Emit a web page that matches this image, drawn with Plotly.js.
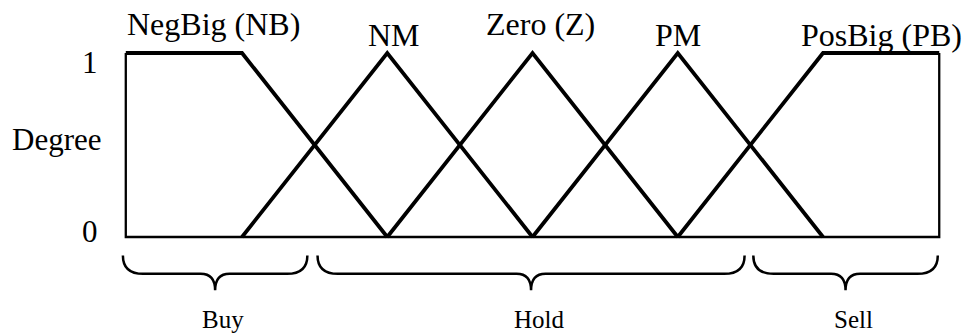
<!DOCTYPE html>
<html>
<head>
<meta charset="utf-8">
<script src="https://cdn.plot.ly/plotly-3.0.1.min.js"></script>
<style>html,body{margin:0;padding:0;background:#fff;}#chart{width:968px;height:336px;}</style>
</head>
<body>
<div id="chart"></div>
<script>
// ---- data ----
const setNames = ['NegBig (NB)', 'NM', 'Zero (Z)', 'PM', 'PosBig (PB)'];
const universe = [-2.8, 2.8];
const nbX = [-2.8, -2, -1];
const nbY = [1, 1, 0];
const nmX = [-2, -1, 0];
const nmY = [0, 1, 0];
const zX = [-1, 0, 1];
const zY = [0, 1, 0];
const pmX = [0, 1, 2];
const pmY = [0, 1, 0];
const pbX = [1, 2, 2.8];
const pbY = [0, 1, 1];
const setPeaks = [-2.4, -1, 0, 1, 2.4];
const degreeTicks = [0, 1];
const degreeTickText = ['0', '1'];
const regionNames = ['Buy', 'Hold', 'Sell'];
const regionStart = [-2.82, -1.48, 1.52];
const regionEnd = [-1.55, 1.46, 2.79];

// ---- styles ----
const serif = 'Liberation Serif, Times New Roman, serif';
const black = '#000';
const lineStyle = {color: black, width: 3.8};

const traces = [
  {x: [universe[0], universe[0], universe[1], universe[1]], y: [1, 0, 0, 1], mode: 'lines', line: {color: black, width: 2.3}},
  {x: nbX, y: nbY, mode: 'lines', line: lineStyle},
  {x: nmX, y: nmY, mode: 'lines', line: lineStyle},
  {x: zX, y: zY, mode: 'lines', line: lineStyle},
  {x: pmX, y: pmY, mode: 'lines', line: lineStyle},
  {x: pbX, y: pbY, mode: 'lines', line: lineStyle}
];

// label placement styles
const labelY = [1.158, 1.10, 1.158, 1.10, 1.10];
const labelShift = [30, 7, 8, 0, 0];

const annotations = [];
setNames.forEach((name, i) => {
  annotations.push({x: setPeaks[i], y: labelY[i], xref: 'x', yref: 'y', text: name, showarrow: false,
    xanchor: 'center', yanchor: 'middle', xshift: labelShift[i], font: {family: serif, size: 32, color: black}});
});
degreeTicks.forEach((v, i) => {
  annotations.push({x: universe[0], y: v, xref: 'x', yref: 'y', text: degreeTickText[i], showarrow: false,
    xanchor: 'center', yanchor: 'middle', xshift: -36, yshift: i === 0 ? 6 : -10, font: {family: serif, size: 31, color: black}});
});
annotations.push({x: universe[0], y: 0.5, xref: 'x', yref: 'y', text: 'Degree', showarrow: false,
  xanchor: 'center', yanchor: 'middle', xshift: -69, yshift: 6, font: {family: serif, size: 31, color: black}});

const shapes = [];
const braceTop = -0.1, braceFlat = -0.2, braceTip = -0.29, r = 0.14, rt = 0.1;
regionNames.forEach((name, i) => {
  const a = regionStart[i], b = regionEnd[i], m = (a + b) / 2;
  const path = `M ${a},${braceTop} Q ${a},${braceFlat} ${a + r},${braceFlat} L ${m - rt},${braceFlat} ` +
    `Q ${m},${braceFlat} ${m},${braceTip} Q ${m},${braceFlat} ${m + rt},${braceFlat} L ${b - r},${braceFlat} ` +
    `Q ${b},${braceFlat} ${b},${braceTop}`;
  shapes.push({type: 'path', xref: 'x', yref: 'y', path: path, line: {color: black, width: 2.5}});
  annotations.push({x: m, y: -0.45, xref: 'x', yref: 'y', text: name, showarrow: false,
    xanchor: 'center', yanchor: 'middle', xshift: 8, font: {family: serif, size: 25, color: black}});
});

const layout = {
  width: 968, height: 336,
  margin: {l: 0, r: 0, t: 0, b: 0, pad: 0},
  paper_bgcolor: '#fff', plot_bgcolor: '#fff',
  showlegend: false,
  xaxis: {range: [-3.666, 2.998], visible: false, fixedrange: true},
  yaxis: {range: [-0.538, 1.288], visible: false, fixedrange: true},
  annotations: annotations,
  shapes: shapes
};

Plotly.newPlot('chart', traces, layout, {staticPlot: true, displayModeBar: false});
</script>
</body>
</html>
